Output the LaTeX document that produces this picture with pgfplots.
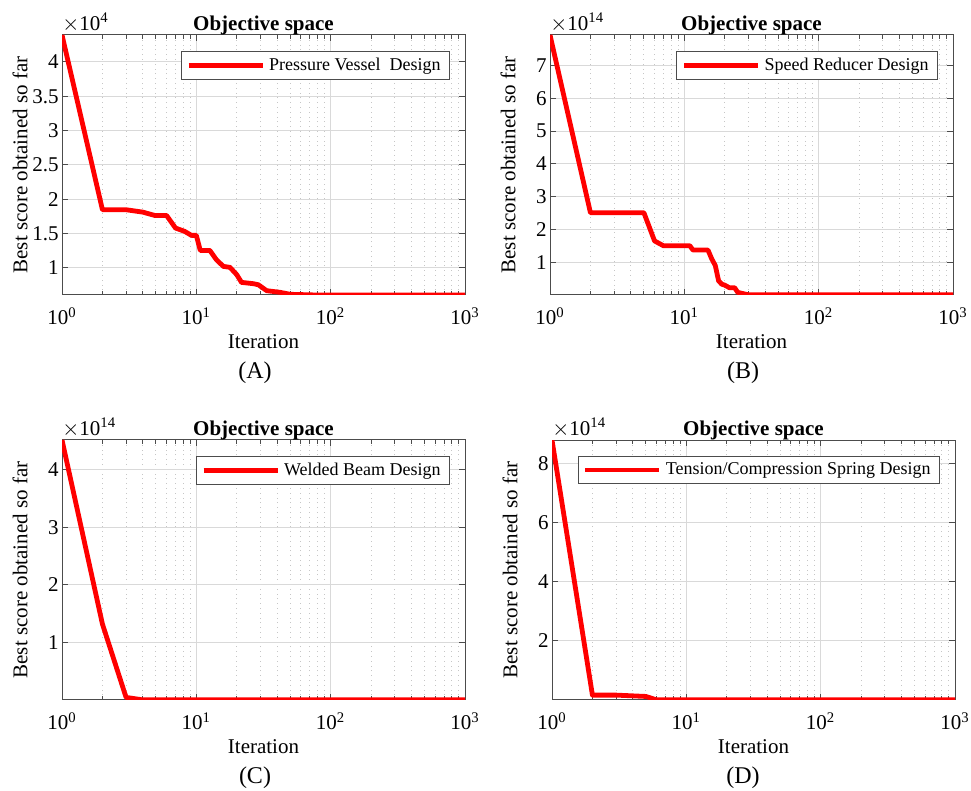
\documentclass[border=0pt]{standalone}
\usepackage{fontspec}
\setmainfont{Liberation Serif}
\usepackage{pgfplots}
\pgfplotsset{compat=1.18}
\definecolor{gridc}{gray}{0.85}
\definecolor{axc}{gray}{0.3}
\definecolor{curve}{RGB}{255,0,0}
\tikzset{rline/.style={draw=curve, line width=2.4pt, line join=round, mark=none}}
\pgfplotsset{
  legend image code/.code={\draw[#1] (0pt,0pt) -- (37pt,0pt);},
  ytick scale label code/.code={$\times$10\textsuperscript{#1}},
  every y tick scale label/.style={at={(axis description cs:0,1)}, anchor=south west, inner sep=0pt, yshift=1pt, font=\fontsize{10.5}{12}\selectfont},
  every axis title shift=0pt,
  every axis/.append style={
  scale only axis, width=201.5pt, height=130pt,
  font=\fontsize{10.5}{12}\selectfont,
  xmin=1, xmax=1000,
  xtick={1,10,100,1000},
  xticklabels={10\textsuperscript{0},10\textsuperscript{1},10\textsuperscript{2},10\textsuperscript{3}},
  minor xtick={2,3,4,5,6,7,8,9,20,30,40,50,60,70,80,90,200,300,400,500,600,700,800,900},
  xmajorgrids, xminorgrids, ymajorgrids,
  major grid style={draw=gridc, line width=0.5pt},
  minor grid style={draw=gray!45, dotted, line width=0.5pt},
  axis line style={draw=axc, line width=0.5pt},
  tick style={draw=axc, line width=0.5pt},
  tick align=inside, major tick length=3pt, minor tick length=1.8pt,
  xtick pos=both, ytick pos=both,
  ticklabel style={font=\fontsize{10.5}{12}\selectfont},
  xticklabel style={anchor=base, yshift=-15pt},
  yticklabel style={inner sep=1.5pt},
  xlabel={Iteration}, ylabel={Best score obtained so far},
  xlabel style={at={(axis description cs:0.5,-0.205)}, anchor=base},
  ylabel style={at={(axis description cs:-0.104,0.5)}, anchor=center},
  title={Objective space},
  title style={at={(axis description cs:0.5,1.019)}, anchor=base, inner sep=0pt, yshift=0pt, font=\bfseries\fontsize{10.5}{12}\selectfont},
  legend style={at={(axis description cs:0.963,0.938)}, anchor=north east, draw=axc, line width=0.5pt, fill=white, font=\fontsize{9}{10}\selectfont, inner xsep=2.5pt, inner ysep=1pt},
  legend cell align=left,
  },
}
\begin{document}
\begin{tikzpicture}
\useasboundingbox (0,0) rectangle (485.5pt,-395.5pt);
% (A)
\begin{semilogxaxis}[at={(31pt,-147.5pt)}, anchor=south west,
  ymin=6020, ymax=43930, ytick={10000,15000,20000,25000,30000,35000,40000},
  scaled y ticks=base 10:-4, /pgf/number format/assume math mode=true]
\addplot[rline] coordinates {(1,43930) (2,18450) (3,18450) (4,18100) (4.9,17620) (6,17620) (7,15780) (8.2,15290) (9.2,14710) (10,14710) (10.7,12520) (12.6,12520) (14.1,11170) (15.9,10190) (17.8,10050) (20,8980) (21.7,7860) (26.5,7670) (28.9,7520) (33.4,6650) (42,6410) (50,6120) (78,6020) (1000,6020)};
\addlegendentry{Pressure Vessel~ Design}
\end{semilogxaxis}
% (B)
\begin{semilogxaxis}[at={(275pt,-147.5pt)}, anchor=south west,
  ymin=0, ymax=7.93e14, ytick={1e14,2e14,3e14,4e14,5e14,6e14,7e14},
  scaled y ticks=base 10:-14, /pgf/number format/assume math mode=true]
\addplot[rline] coordinates {(1,7.93e14) (2,2.51e14) (5,2.51e14) (6,1.65e14) (7,1.50e14) (11,1.50e14) (11.6,1.37e14) (15,1.37e14) (16,1.1e14) (17,0.9e14) (18,0.43e14) (19,0.33e14) (20,0.30e14) (21.7,0.22e14) (23.7,0.22e14) (25,0.08e14) (30,0.005e14) (1000,0.003e14)};
\addlegendentry{Speed Reducer Design}
\end{semilogxaxis}
% (C)
\begin{semilogxaxis}[at={(31pt,-350pt)}, anchor=south west,
  ymin=0, ymax=4.52e14, ytick={1e14,2e14,3e14,4e14},
  scaled y ticks=base 10:-14, /pgf/number format/assume math mode=true]
\addplot[rline] coordinates {(1,4.52e14) (2,1.32e14) (3,0.045e14) (4,0.002e14) (1000,0.002e14)};
\addlegendentry{Welded Beam Design}
\end{semilogxaxis}
% (D)
\begin{semilogxaxis}[at={(276pt,-350pt)}, anchor=south west,
  ymin=0, ymax=8.79e14, ytick={2e14,4e14,6e14,8e14},
  scaled y ticks=base 10:-14, /pgf/number format/assume math mode=true]
\addplot[rline] coordinates {(1,8.79e14) (2,0.165e14) (3,0.165e14) (5,0.12e14) (6,0.005e14) (1000,0.005e14)};
\addlegendentry{Tension/Compression Spring Design}
\end{semilogxaxis}
\node[font=\fontsize{12}{14}\selectfont] at (127.5pt,-186.5pt) {(A)};
\node[font=\fontsize{12}{14}\selectfont] at (371.5pt,-186.5pt) {(B)};
\node[font=\fontsize{12}{14}\selectfont] at (127.5pt,-389pt) {(C)};
\node[font=\fontsize{12}{14}\selectfont] at (371.5pt,-389pt) {(D)};
\end{tikzpicture}
\end{document}
